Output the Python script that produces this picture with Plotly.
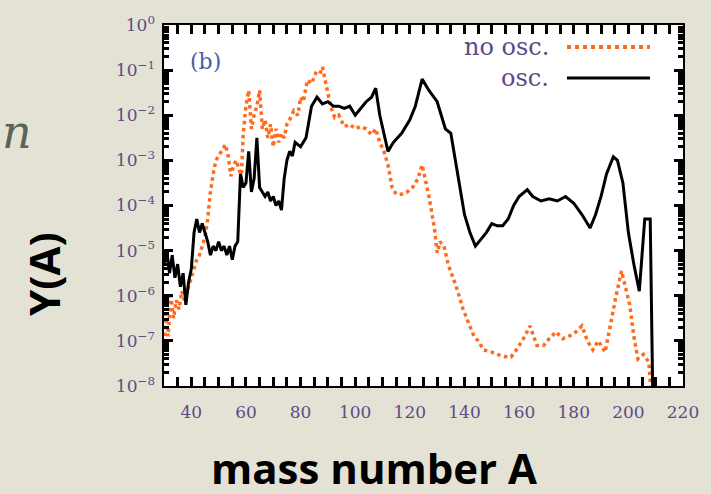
import plotly.graph_objects as go

# ---------------- data ----------------
osc_A = [30, 31, 32, 33, 34, 35, 36, 37, 38, 39, 40, 41, 42, 43, 44, 45, 46, 47, 48, 49,
         50, 51, 52, 53, 54, 55, 56, 57, 58, 59, 60, 61, 62, 63, 64, 65, 66, 67, 68, 69,
         70, 71, 72, 73, 74, 75, 76, 77, 78, 80, 82, 83, 84, 86, 88, 90, 92, 94, 96, 98,
         100, 102, 104, 106, 107.5, 109, 112, 114, 117, 120, 122, 124.5, 127, 130, 133,
         135, 137, 140, 142, 144, 146, 148, 150, 152, 154, 156, 158, 160, 163, 165, 168,
         171, 174, 177, 180, 183, 186, 188, 190, 192, 194.5, 196, 198, 200, 202, 204,
         206, 208, 209]
osc_logY = [-5.3, -5.0, -5.5, -5.1, -5.6, -5.3, -5.8, -5.5, -6.2, -5.7, -5.4, -4.6, -4.3,
            -4.6, -4.4, -4.6, -4.8, -5.1, -4.9, -5.0, -4.8, -5.0, -4.9, -5.1, -4.9, -5.2,
            -4.9, -4.8, -3.3, -3.6, -3.5, -2.8, -3.7, -3.4, -2.5, -3.6, -3.7, -3.8, -3.7,
            -3.9, -3.8, -4.0, -3.9, -4.1, -3.4, -3.0, -2.8, -2.9, -2.6, -2.7, -2.5, -2.1,
            -1.8, -1.6, -1.75, -1.7, -1.8, -1.8, -1.85, -1.8, -2.0, -1.85, -1.7, -1.6,
            -1.4, -2.0, -2.8, -2.6, -2.4, -2.1, -1.8, -1.2, -1.45, -1.7, -2.3, -2.4, -3.1,
            -4.2, -4.6, -4.9, -4.75, -4.6, -4.4, -4.45, -4.45, -4.3, -4.0, -3.8, -3.65,
            -3.8, -3.9, -3.85, -3.9, -3.8, -3.95, -4.2, -4.5, -4.2, -3.8, -3.3, -2.92,
            -3.0, -3.5, -4.6, -5.3, -5.9, -4.3, -4.3, -8.5]

noosc_A = [30, 30.5, 31.5, 32.5, 33.5, 34.5, 35.5, 36.5, 37.5, 39, 40, 41, 42, 43, 44, 45,
           46, 47, 48, 49, 50, 51, 52.5, 53.5, 54.5, 55.5, 56.5, 57.5, 58.3, 59, 60, 61,
           62, 63, 64, 65, 66, 67, 68, 69, 70, 71, 72, 73, 74, 75, 76, 77.5, 79, 80, 81,
           82.5, 84, 85.5, 87, 88, 89.5, 91, 92.5, 94, 96, 98, 100, 102, 104, 106, 107.5,
           109, 110.5, 112, 113.5, 115, 117, 119, 121, 123, 124.5, 126, 127, 129, 130,
           131, 132.5, 134, 135, 137, 139.5, 141.5, 143.5, 145, 147, 150, 152, 155, 157,
           159, 161.5, 164, 166.5, 169, 171, 173.5, 176, 178, 180, 183, 185, 187, 189,
           191.5, 193.5, 195.5, 197.5, 199, 200.5, 202, 203.5, 205.5, 207.5, 208.5]
noosc_logY = [-7.2, -6.4, -6.9, -6.0, -6.5, -6.1, -6.3, -5.9, -6.1, -5.8, -5.6, -5.4, -5.2,
              -5.1, -4.9, -4.7, -4.3, -3.7, -3.3, -3.0, -2.9, -2.8, -2.65, -2.9, -3.35,
              -3.1, -3.0, -3.2, -3.4, -2.4, -1.8, -1.45, -2.3, -2.0, -1.8, -1.45, -2.3,
              -2.1, -2.5, -2.2, -2.7, -2.3, -2.6, -2.4, -2.5, -2.2, -2.1, -1.9, -2.0, -1.6,
              -1.7, -1.22, -1.3, -1.07, -1.1, -0.93, -1.4, -1.8, -2.05, -2.0, -2.25, -2.2,
              -2.3, -2.25, -2.3, -2.43, -2.3, -2.6, -2.8, -3.1, -3.6, -3.75, -3.75, -3.7,
              -3.6, -3.4, -3.1, -3.5, -3.8, -4.5, -5.05, -4.8, -4.9, -5.3, -5.45, -5.8,
              -6.3, -6.6, -6.9, -7.0, -7.2, -7.25, -7.3, -7.35, -7.36, -7.2, -6.96, -6.67,
              -7.1, -7.1, -6.95, -6.8, -6.95, -6.9, -6.85, -6.67, -7.0, -7.2, -7.0, -7.25,
              -6.6, -6.0, -5.45, -5.8, -6.2, -6.9, -7.4, -7.3, -7.47, -8.3]

x_range = [30, 220]
x_major_step = 20
x_minor_step = 5
y_tick_exps = [0, -1, -2, -3, -4, -5, -6, -7, -8]
y_tick_labels = ["10<sup>0</sup>", "10<sup>−1</sup>", "10<sup>−2</sup>", "10<sup>−3</sup>",
                 "10<sup>−4</sup>", "10<sup>−5</sup>", "10<sup>−6</sup>", "10<sup>−7</sup>",
                 "10<sup>−8</sup>"]
legend_names = ["no osc.", "osc."]

# ---------------- figure ----------------
W, H = 711, 494
L, R, T, B = 164, 28, 25, 108
pw, ph = W - L - R, H - T - B

def px(x):
    return (x - L) / pw

def py(y):
    return (H - B - y) / ph

ORANGE = "#ff6a1c"
TXT = "#5b4c88"

fig = go.Figure()
fig.add_trace(go.Scatter(x=noosc_A, y=[10 ** v for v in noosc_logY], mode="lines",
                         name=legend_names[0],
                         line=dict(color=ORANGE, width=3.5, dash="dot")))
fig.add_trace(go.Scatter(x=osc_A, y=[10 ** v for v in osc_logY], mode="lines",
                         name=legend_names[1],
                         line=dict(color="black", width=3)))
# empty trace so the label-only overlay axis exists
fig.add_trace(go.Scatter(x=[], y=[], yaxis="y2", showlegend=False, hoverinfo="skip"))

tickfont = dict(family="DejaVu Serif", size=17, color=TXT)

fig.update_layout(
    xaxis=dict(range=x_range, tickmode="linear", tick0=0, dtick=x_major_step,
               ticks="inside", ticklen=9, tickwidth=3, tickcolor="black",
               showline=True, linecolor="black", linewidth=2, mirror="allticks",
               showgrid=False, zeroline=False, tickfont=tickfont, ticklabelstandoff=10,
               minor=dict(dtick=x_minor_step, tick0=0, ticks="inside", ticklen=5,
                          tickcolor="black", showgrid=False)),
    yaxis=dict(type="log", range=[-8, 0], tickmode="linear", dtick=1,
               ticks="inside", ticklen=9, tickwidth=3, tickcolor="black",
               showline=True, linecolor="black", linewidth=2, mirror="allticks",
               showgrid=False, zeroline=False, showticklabels=False,
               minor=dict(dtick="D1", ticks="inside", ticklen=5,
                          tickcolor="black", showgrid=False)),
    yaxis2=dict(type="log", range=[-8, 0], overlaying="y", side="left", anchor="x",
                tickmode="array", tickvals=[10 ** e for e in y_tick_exps],
                ticktext=y_tick_labels, ticks="", showline=False, showgrid=False,
                zeroline=False, tickfont=tickfont, ticklabelstandoff=8),
)

ann = []
ann.append(dict(x=px(551), y=py(47), xref="paper", yref="paper", text=legend_names[0],
                showarrow=False, xanchor="right", yanchor="middle",
                font=dict(family="DejaVu Serif", size=24, color=TXT)))
ann.append(dict(x=px(551), y=py(78), xref="paper", yref="paper", text=legend_names[1],
                showarrow=False, xanchor="right", yanchor="middle",
                font=dict(family="DejaVu Serif", size=24, color=TXT)))
ann.append(dict(x=px(205), y=py(61), xref="paper", yref="paper", text="(b)",
                showarrow=False, xanchor="center", yanchor="middle",
                font=dict(family="DejaVu Serif", size=22, color="#4a5ca8")))
ann.append(dict(x=px(43), y=py(274), xref="paper", yref="paper", text="<b>Y(A)</b>",
                showarrow=False, textangle=-90, xanchor="center", yanchor="middle",
                font=dict(family="Open Sans", size=42, color="black")))
ann.append(dict(x=px(374), y=py(467), xref="paper", yref="paper",
                text="<b>mass number A</b>", showarrow=False, xanchor="center",
                yanchor="middle", font=dict(family="Open Sans", size=42, color="black")))
ann.append(dict(x=px(0), y=py(132), xref="paper", yref="paper", text="<i>n</i>",
                showarrow=False, xanchor="left", yanchor="middle",
                font=dict(family="DejaVu Serif", size=46, color="#56645c")))

shapes = [
    dict(type="line", xref="paper", yref="paper", x0=px(567), x1=px(650), y0=py(47),
         y1=py(47), line=dict(color=ORANGE, width=4, dash="dot")),
    dict(type="line", xref="paper", yref="paper", x0=px(567), x1=px(650), y0=py(78),
         y1=py(78), line=dict(color="black", width=3)),
]

fig.update_layout(width=W, height=H, margin=dict(l=L, r=R, t=T, b=B), template="none",
                  paper_bgcolor="#e4e2d4", plot_bgcolor="white", showlegend=False,
                  annotations=ann, shapes=shapes)

fig.write_html("out.html", config={"displayModeBar": False},
               post_script="document.body.style.margin='0';")
